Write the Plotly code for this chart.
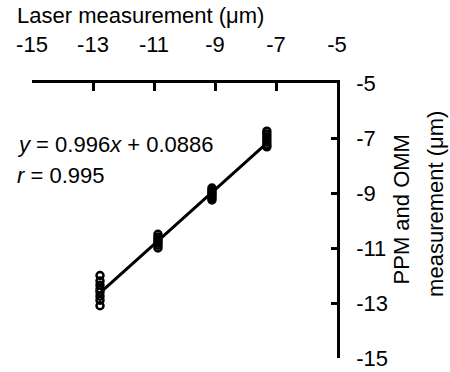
import plotly.graph_objects as go

# Laser measurement (x) and PPM/OMM measurement (y), in micrometres
laser_x = [-12.77] * 8 + [-10.87] * 7 + [-9.1] * 7 + [-7.3] * 7
ppm_omm_y = [
    -12.0, -12.2, -12.35, -12.5, -12.6, -12.75, -12.9, -13.1,
    -10.5, -10.6, -10.68, -10.75, -10.82, -10.9, -11.0,
    -8.82, -8.9, -8.97, -9.03, -9.1, -9.17, -9.25,
    -6.75, -6.85, -6.95, -7.05, -7.15, -7.25, -7.32,
]

# Regression line
slope = 0.996
intercept = 0.0886
line_x = [-12.77, -7.3]
line_y = [slope * v + intercept for v in line_x]

tick_vals = [-15, -13, -11, -9, -7, -5]
tick_text = ["-15", "-13", "-11", "-9", "-7", "-5"]

FONT = "Liberation Sans, Arial, sans-serif"
FS = 22

fig = go.Figure()
fig.add_trace(go.Scatter(
    x=line_x, y=line_y, mode="lines",
    line=dict(color="black", width=3), showlegend=False,
))
fig.add_trace(go.Scatter(
    x=laser_x, y=ppm_omm_y, mode="markers",
    marker=dict(symbol="circle-open", size=7, color="black",
                line=dict(width=2.5, color="black")),
    showlegend=False,
))

fig.update_layout(
    width=450, height=372,
    margin=dict(l=32, r=113, t=83, b=14, autoexpand=False),
    paper_bgcolor="white", plot_bgcolor="white",
    font=dict(family=FONT, size=FS, color="black"),
    xaxis=dict(
        range=[-15, -5], side="top", tickvals=tick_vals, ticktext=tick_text,
        showgrid=False, zeroline=False, showline=True, linecolor="black",
        linewidth=2.5, ticks="inside", ticklen=8, tickwidth=2.5,
        tickcolor="black", ticklabelstandoff=19, automargin=False,
        ticklabeloverflow="allow",
    ),
    yaxis=dict(
        range=[-15, -5], side="right", tickvals=tick_vals, ticktext=tick_text,
        showgrid=False, zeroline=False, showline=True, linecolor="black",
        linewidth=2.5, ticks="inside", ticklen=6, tickwidth=2.5,
        tickcolor="black", ticklabelstandoff=12, automargin=False,
        ticklabeloverflow="allow",
    ),
    annotations=[
        dict(text="Laser measurement (μm)", xref="paper", yref="paper",
             x=-0.056, y=1.247, xanchor="left", yanchor="middle",
             showarrow=False, font=dict(size=FS, color="black")),
        dict(text="PPM and OMM", xref="paper", yref="paper",
             x=1.213, y=0.54, xanchor="center", yanchor="middle",
             textangle=-90, showarrow=False, font=dict(size=FS, color="black")),
        dict(text="measurement (μm)", xref="paper", yref="paper",
             x=1.321, y=0.56, xanchor="center", yanchor="middle",
             textangle=-90, showarrow=False, font=dict(size=FS, color="black")),
        dict(text="<i>y</i> = 0.996<i>x</i> + 0.0886", xref="paper", yref="paper",
             x=-0.056, y=0.775, xanchor="left", yanchor="middle",
             showarrow=False, font=dict(size=FS, color="black")),
        dict(text="<i>r</i> = 0.995", xref="paper", yref="paper",
             x=-0.056, y=0.662, xanchor="left", yanchor="middle",
             showarrow=False, font=dict(size=FS, color="black")),
    ],
)

fig.write_html(
    "out.html",
    config={"displayModeBar": False},
    post_script="document.body.style.margin='0';document.body.style.overflow='hidden';",
)
